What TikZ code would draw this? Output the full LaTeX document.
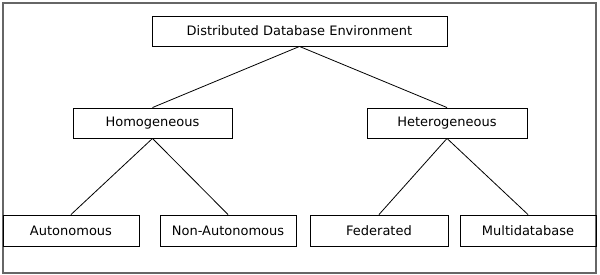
\documentclass[tikz,border=0pt]{standalone}
\usepackage{fontspec}
\setmainfont{DejaVu Sans}
\usepackage{tikz}
\usetikzlibrary{positioning}

\begin{document}
\begin{tikzpicture}[
  x=1pt, y=-1pt,
  dbbox/.style={rectangle, draw=black, line width=0.9pt, minimum height=30pt, inner sep=2pt, font={\fontsize{13}{15}\selectfont}},
  dbedge/.style={line width=0.8pt}
]
\useasboundingbox (0,0) rectangle (600,275);
\draw[gray!80!black, line width=1.3pt] (3,3) rectangle (596,273);
\node[dbbox, minimum width=295pt] (env) at (299.5,31.0) {Distributed Database Environment};
\node[dbbox, minimum width=159pt] (homo) at (152.5,123.0) {Homogeneous};
\node[dbbox, minimum width=160pt] (hetero) at (447.0,123.0) {Heterogeneous};
\node[dbbox, minimum width=136pt, minimum height=31pt] (auto) at (71.0,230.5) {Autonomous};
\node[dbbox, minimum width=136pt, minimum height=31pt] (nonauto) at (228.0,230.5) {Non-Autonomous};
\node[dbbox, minimum width=138pt, minimum height=31pt] (fed) at (379.0,230.5) {Federated};
\node[dbbox, minimum width=136pt, minimum height=31pt] (multi) at (528.0,230.5) {Multidatabase};
\draw[dbedge] (env.south) -- (homo.north);
\draw[dbedge] (env.south) -- (hetero.north);
\draw[dbedge] (homo.south) -- (auto.north);
\draw[dbedge] (homo.south) -- (nonauto.north);
\draw[dbedge] (hetero.south) -- (fed.north);
\draw[dbedge] (hetero.south) -- (multi.north);
\end{tikzpicture}
\end{document}
